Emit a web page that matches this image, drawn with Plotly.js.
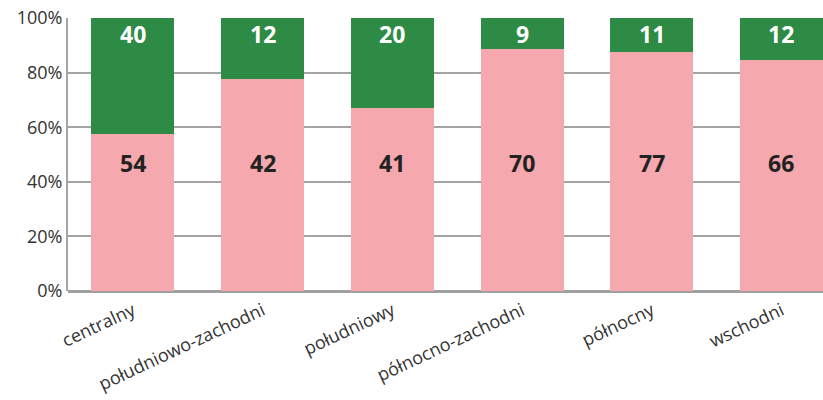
<!DOCTYPE html>
<html>
<head>
<meta charset="utf-8">
<script src="https://cdn.plot.ly/plotly-3.0.1.min.js"></script>
<style>html,body{margin:0;padding:0;background:#fff;}#chart{width:823px;height:400px;}</style>
</head>
<body>
<div id="chart"></div>
<script>
const categories = ["centralny", "południowo-zachodni", "południowy", "północno-zachodni", "północny", "wschodni"];
const pinkValues = [54, 42, 41, 70, 77, 66];
const greenValues = [40, 12, 20, 9, 11, 12];
const yTickVals = [0, 20, 40, 60, 80, 100];
const yTickText = ["0%", "20%", "40%", "60%", "80%", "100%"];

const FONT = "Open Sans, Noto Sans, sans-serif";

const traces = [
  {
    type: "bar", x: categories, y: pinkValues, name: "a",
    marker: {color: "#F5A8AD", line: {width: 0}},
    width: 0.64, hoverinfo: "none"
  },
  {
    type: "bar", x: categories, y: greenValues, name: "b",
    marker: {color: "#2E8B45", line: {width: 0}},
    width: 0.64, hoverinfo: "none"
  }
];

const annotations = [];
categories.forEach((c, i) => {
  annotations.push({x: c, y: 47, xref: "x", yref: "y", text: "<b>" + pinkValues[i] + "</b>",
    showarrow: false, font: {family: FONT, size: 23, color: "#222"}});
  annotations.push({x: c, y: 94, xref: "x", yref: "y", text: "<b>" + greenValues[i] + "</b>",
    showarrow: false, font: {family: FONT, size: 23, color: "#fff"}});
});

const layout = {
  width: 823, height: 400,
  margin: {l: 68, r: 0, t: 18, b: 109},
  barmode: "stack", barnorm: "percent",
  showlegend: false,
  paper_bgcolor: "#fff", plot_bgcolor: "#fff",
  font: {family: FONT, size: 16, color: "#333"},
  xaxis: {
    range: [-0.5, 5.32], tickangle: -25, showgrid: false,
    showline: false, ticks: "", zeroline: false, ticklabelstandoff: 5,
    tickfont: {family: FONT, size: 18, color: "#333"}
  },
  yaxis: {
    range: [0, 100], tickvals: yTickVals, ticktext: yTickText,
    showgrid: true, gridcolor: "#A3A3A3", gridwidth: 2,
    showline: true, linecolor: "#A6A6A6", linewidth: 2,
    zeroline: true, zerolinecolor: "#A0A0A0", zerolinewidth: 3,
    ticks: "", ticklen: 0,
    tickfont: {family: FONT, size: 18, color: "#333"}
  },
  annotations: annotations
};

Plotly.newPlot("chart", traces, layout, {displayModeBar: false, staticPlot: true});
</script>
</body>
</html>
